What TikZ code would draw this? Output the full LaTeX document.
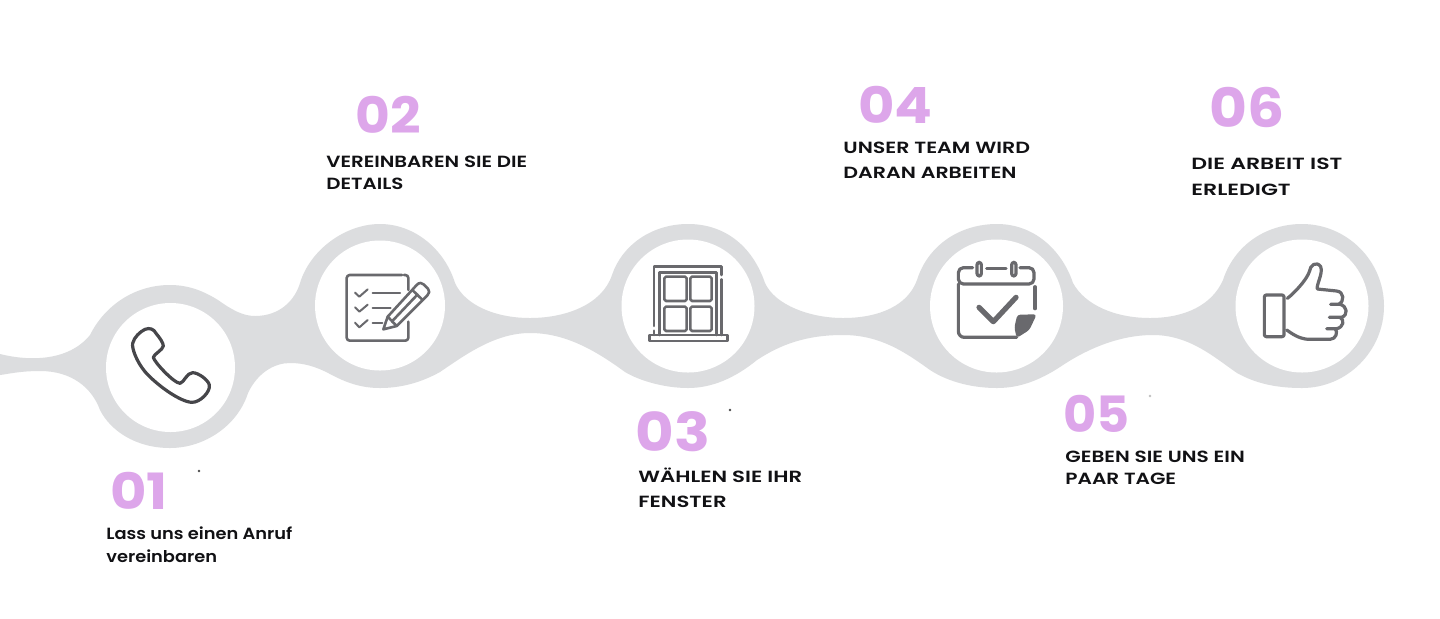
\documentclass[tikz,border=0pt]{standalone}
\usepackage{graphicx}
\usepackage{fontspec}
\setmainfont{Poppins}
\newfontfamily\numfont[FakeStretch=1.12]{Poppins}
\newfontfamily\txtfont{Poppins SemiBold}
\definecolor{bandc}{HTML}{DCDDDF}
\definecolor{numc}{HTML}{DDA6EA}
\definecolor{txtc}{HTML}{111114}
\definecolor{iconc}{HTML}{69696D}
\definecolor{phonec}{HTML}{46464A}
\newcommand{\twolines}[4]{\vtop{\baselineskip=#1\lineskiplimit=-10pt\hbox{\scalebox{#2}[1]{#3}}\hbox{\scalebox{#2}[1]{#4}}}}
\tikzset{
  hole/.style={circle,fill=white,draw=none,minimum size=#1,inner sep=0pt},
  numlabel/.style={anchor=base west,inner sep=0pt,text=numc,font=\numfont\bfseries\fontsize{25}{25}\selectfont},
  steplabel/.style={anchor=base west,inner sep=0pt,text=txtc,font=\txtfont\fontsize{8.1}{10}\selectfont},
  iconline/.style={draw=iconc,line width=1.3pt,line cap=round,line join=round},
  zoomA/.style={x=0.16667pt,y=-0.16667pt,shift={(0pt,-110pt)}},
  zoomB/.style={x=0.16667pt,y=-0.16667pt,shift={(290pt,-110pt)}},
  zoomC/.style={x=0.16667pt,y=-0.16667pt,shift={(530pt,-110pt)}},
  speck/.style={circle,fill=#1,inner sep=0pt,minimum size=1.4pt}
}
\begin{document}
\begin{tikzpicture}[x=0.5pt,y=-0.5pt]
\useasboundingbox (0,0) rectangle (1440,618);
\fill[white] (0,0) rectangle (1440,618);
% band
\fill[bandc] (0,354)
 .. controls (28,361) and (68,362) .. (90,335)
 .. controls (105,305) and (135,285) .. (170,285)
 .. controls (190,285) and (205,292) .. (218,300)
 .. controls (232,310) and (243,316) .. (255,316)
 .. controls (280,316) and (295,300) .. (300,283)
 .. controls (310,250) and (345,224) .. (380,224)
 .. controls (415,224) and (445,250) .. (455,283)
 .. controls (465,305) and (495,318) .. (530,318)
 .. controls (565,318) and (602,305) .. (612,275)
 .. controls (622,245) and (652,224) .. (688,224)
 .. controls (724,224) and (752,245) .. (765,283)
 .. controls (775,305) and (810,318) .. (843,318)
 .. controls (880,318) and (908,305) .. (917,280)
 .. controls (928,245) and (960,224) .. (997,224)
 .. controls (1034,224) and (1062,250) .. (1073,283)
 .. controls (1085,305) and (1115,318) .. (1150,318)
 .. controls (1185,318) and (1212,305) .. (1223,280)
 .. controls (1234,246) and (1265,224) .. (1302,224)
 .. controls (1347,224) and (1384,261) .. (1384,306)
 .. controls (1384,351) and (1347,388) .. (1302,388)
 .. controls (1275,388) and (1255,383) .. (1237,373)
 .. controls (1215,358) and (1190,335) .. (1153,335)
 .. controls (1118,335) and (1085,350) .. (1060,367)
 .. controls (1040,380) and (1020,388) .. (997,388)
 .. controls (975,388) and (950,383) .. (930,370)
 .. controls (905,352) and (880,335) .. (843,335)
 .. controls (805,335) and (780,345) .. (757,360)
 .. controls (735,378) and (712,388) .. (688,388)
 .. controls (665,388) and (640,381) .. (625,372)
 .. controls (595,350) and (565,333) .. (530,333)
 .. controls (495,333) and (465,355) .. (440,372)
 .. controls (422,382) and (402,388) .. (380,388)
 .. controls (360,388) and (345,382) .. (330,374)
 .. controls (315,366) and (303,363) .. (290,363)
 .. controls (275,363) and (258,372) .. (248,393)
 .. controls (238,425) and (205,448) .. (170,448)
 .. controls (135,448) and (110,430) .. (100,410)
 .. controls (92,388) and (72,371) .. (40,371)
 .. controls (20,371) and (8,374) .. (0,375) -- cycle;
% white discs
\node[hole=64.5pt] (disc1) at (170.5,367.5) {};
\node[hole=65pt] (disc2) at (380,305.5) {};
\node[hole=66.5pt] (disc3) at (688,306) {};
\node[hole=66.5pt] (disc4) at (996.5,306) {};
\node[hole=66.5pt] (disc5) at (1302,306) {};
% phone
\begin{scope}[zoomA]
\draw[draw=phonec,line width=1.6pt,line join=round]
 (435,328) .. controls (450,322) and (462,328) .. (468,340)
 .. controls (478,352) and (490,368) .. (490,378)
 .. controls (488,390) and (462,402) .. (460,412)
 .. controls (462,425) and (520,488) .. (540,490)
 .. controls (552,488) and (560,458) .. (578,458)
 .. controls (595,458) and (625,480) .. (628,495)
 .. controls (632,515) and (600,548) .. (575,547)
 .. controls (540,545) and (470,495) .. (435,455)
 .. controls (410,425) and (395,385) .. (398,370)
 .. controls (402,352) and (420,335) .. (435,328) -- cycle;
% checklist
\draw[iconline,rounded corners=1.5pt] (1206,165) -- (1040,165) -- (1040,362) -- (1225,362) -- (1225,305);
\draw[iconline,rounded corners=1.5pt] (1212,165) -- (1225,165) -- (1225,210);
\draw[iconline,line width=1pt] (1065,218) -- (1078,230) -- (1103,208);
\draw[iconline,line width=1pt] (1065,262) -- (1078,275) -- (1103,254);
\draw[iconline,line width=1pt] (1065,308) -- (1078,322) -- (1103,300);
\draw[iconline,line width=1pt] (1118,218) -- (1200,218);
\draw[iconline,line width=1pt] (1118,264) -- (1172,264);
\draw[iconline,line width=1pt] (1118,310) -- (1147,310);
\draw[iconline] (1150,328) -- (1163,290) -- (1250,195) .. controls (1258,186) and (1266,188) .. (1272,194) -- (1284,206) .. controls (1290,213) and (1288,220) .. (1282,226) -- (1190,318) -- cycle;
\draw[iconline] (1237,210) -- (1268,240);
\draw[iconline] (1163,290) -- (1190,318);
\draw[iconline] (1176,304) -- (1252,224);
\end{scope}
% window, calendar
\begin{scope}[zoomB]
\draw[iconline] (222,318) -- (222,140) -- (425,140) -- (425,165);
\draw[iconline] (425,178) -- (425,345);
\draw[iconline] (222,332) -- (222,345);
\draw[iconline] (238,345) -- (238,157) -- (410,157) -- (410,345);
\draw[iconline,rounded corners=0.8pt] (253,170) rectangle (320,243);
\draw[iconline,rounded corners=0.8pt] (331,170) rectangle (395,243);
\draw[iconline,rounded corners=0.8pt] (253,260) rectangle (320,333);
\draw[iconline,rounded corners=0.8pt] (331,260) rectangle (395,333);
\draw[iconline] (208,345) rectangle (442,363);
% calendar
\draw[iconline,line width=1.6pt,rounded corners=2.5pt] (1178,143) -- (1135,143) -- (1135,192) -- (1362,192) -- (1362,143) -- (1320,143);
\draw[iconline,line width=1.6pt] (1220,145) -- (1278,145);
\draw[iconline,line width=1.6pt,rounded corners=1.2pt] (1191,127) rectangle (1204,168);
\draw[iconline,line width=1.6pt,rounded corners=1.2pt] (1295,127) rectangle (1308,168);
\draw[iconline,line width=1.6pt,rounded corners=3pt] (1135,192) -- (1135,352) -- (1310,352);
\draw[iconline,line width=1.6pt] (1365,200) -- (1365,266);
\draw[draw=iconc,line width=2.6pt,line cap=round,line join=round] (1197,262) -- (1240,305) -- (1308,232);
\fill[iconc,rounded corners=1.5pt] (1312,284) -- (1370,283) -- (1348,330) -- (1310,354) -- (1303,322) -- cycle;
\end{scope}
% thumb
\begin{scope}[zoomC]
\draw[iconline,line width=1.6pt,rounded corners=1pt] (613,225) rectangle (672,350);
\draw[iconline,line width=1.6pt]
 (682,235) .. controls (700,222) and (740,180) .. (748,155)
 .. controls (750,135) and (770,122) .. (782,140)
 .. controls (790,160) and (768,195) .. (772,207)
 -- (830,213) .. controls (852,215) and (855,245) .. (835,253)
 -- (812,253) -- (840,253) .. controls (862,258) and (865,285) .. (845,292)
 -- (808,292) -- (840,292) .. controls (855,300) and (850,322) .. (830,326)
 -- (800,326) -- (825,326) .. controls (835,335) and (828,358) .. (810,358)
 -- (745,358) .. controls (715,356) and (695,340) .. (680,330);
\end{scope}
% labels
\node[numlabel] (n1) at (110,509) {01};
\node[steplabel] (t1) at (106,539) {\twolines{11.5pt}{1.1}{Lass uns einen Anruf}{vereinbaren}};
\node[numlabel] (n2) at (355,133) {\scalebox{0.955}[1]{02}};
\node[steplabel] (t2) at (326,167) {\twolines{11pt}{1.225}{VEREINBAREN SIE DIE}{DETAILS}};
\node[numlabel] (n3) at (635,451) {\scalebox{1.06}[1.07]{03}};
\node[steplabel] (t3) at (638,482) {\twolines{12.5pt}{1.31}{WÄHLEN SIE IHR}{FENSTER}};
\node[numlabel] (n4) at (858,123) {04};
\node[steplabel] (t4) at (843,153) {\twolines{12.5pt}{1.27}{UNSER TEAM WIRD}{DARAN ARBEITEN}};
\node[numlabel] (n5) at (1063,432) {\scalebox{0.91}[1]{05}};
\node[steplabel] (t5) at (1065,462) {\twolines{11pt}{1.24}{GEBEN SIE UNS EIN}{PAAR TAGE}};
\node[numlabel] (n6) at (1209,127) {\scalebox{1.04}[1.08]{06}};
\node[steplabel] (t6) at (1191,169) {\twolines{13pt}{1.36}{DIE ARBEIT IST}{ERLEDIGT}};
% specks
\node[speck=black!70] (s1) at (199,471) {};
\node[speck=black!70] (s2) at (730,410) {};
\node[speck=black!25] (s3) at (1150,396) {};
\end{tikzpicture}
\end{document}
